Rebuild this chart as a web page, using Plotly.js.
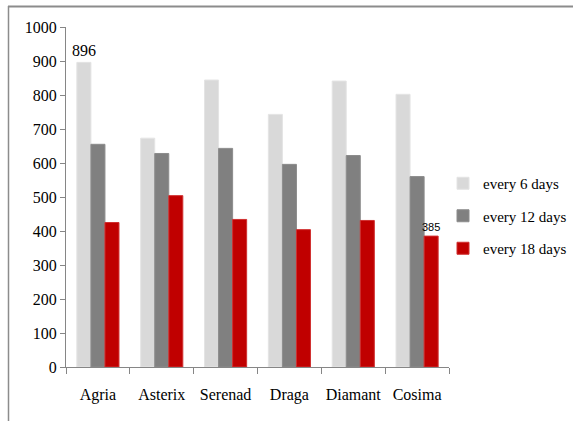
<!DOCTYPE html>
<html>
<head>
<meta charset="utf-8">
<script src="https://cdn.plot.ly/plotly-3.0.1.min.js"></script>
<style>html,body{margin:0;padding:0;background:#fff;}#chart{width:573px;height:421px;}</style>
</head>
<body>
<div id="chart"></div>
<script>
const categories = ["Agria", "Asterix", "Serenad", "Draga", "Diamant", "Cosima"];
const every6 = [896, 673, 844, 743, 841, 802];
const every12 = [655, 628, 643, 596, 622, 560];
const every18 = [425, 504, 434, 404, 431, 385];
const seriesNames = ["every 6 days", "every 12 days", "every 18 days"];
const label6 = ["896", "", "", "", "", ""];
const label18 = ["", "", "", "", "", "385"];

const W = 573, H = 421;
const mL = 66, mR = 124, mT = 27, mB = 54;
const pw = W - mL - mR, ph = H - mT - mB;
const px = x => (x - mL) / pw;
const py = y => (H - mB - y) / ph;
const SERIF = "Liberation Serif";

const traces = [
  {type: "bar", x: categories, y: every6, name: seriesNames[0], legendgroup: "a",
   marker: {color: "#d9d9d9", line: {color: "#e4e4e4", width: 1}},
   text: label6, textposition: "outside", cliponaxis: false, constraintext: "none",
   textfont: {family: SERIF, size: 16, color: "#000"}},
  {type: "bar", x: categories, y: every12, name: seriesNames[1], legendgroup: "b",
   marker: {color: "#808080", line: {color: "#8c8c8c", width: 1}}},
  {type: "bar", x: categories, y: every18, name: seriesNames[2], legendgroup: "c",
   marker: {color: "#c00000", line: {color: "#d03030", width: 1}},
   text: label18, textposition: "outside", cliponaxis: false, constraintext: "none",
   textfont: {family: "Liberation Sans", size: 11, color: "#000"}}
];

const layout = {
  width: W, height: H,
  margin: {l: mL, r: mR, t: mT, b: mB, pad: 0, autoexpand: false},
  paper_bgcolor: "#fff", plot_bgcolor: "#fff",
  barmode: "group", bargap: 0.34, bargroupgap: 0,
  font: {family: SERIF, size: 15, color: "#000"},
  showlegend: true,
  legend: {xref: "container", yref: "container", x: 443 / W, y: 1 - 167 / H,
           xanchor: "left", yanchor: "top",
           traceorder: "grouped", tracegroupgap: 10,
           font: {family: SERIF, size: 15, color: "#000"},
           itemwidth: 30, bgcolor: "rgba(0,0,0,0)"},
  xaxis: {showline: true, linecolor: "#868686", linewidth: 1,
          ticks: "outside", tickson: "boundaries", ticklen: 6, tickcolor: "#868686",
          ticklabelstandoff: 13,
          showgrid: false, zeroline: false, tickangle: 0, automargin: false,
          tickfont: {family: SERIF, size: 16, color: "#000"}},
  yaxis: {range: [0, 1000], dtick: 100, showline: true, linecolor: "#868686", linewidth: 1,
          ticks: "outside", ticklen: 5, tickcolor: "#868686",
          showgrid: false, zeroline: false, automargin: false,
          tickfont: {family: SERIF, size: 16, color: "#000"}},
  shapes: [
    {type: "line", xref: "paper", yref: "paper", x0: px(8), x1: px(573), y0: py(6.5), y1: py(6.5),
     line: {color: "#8c8c8c", width: 2}},
    {type: "line", xref: "paper", yref: "paper", x0: px(8.5), x1: px(8.5), y0: py(6), y1: py(421),
     line: {color: "#8c8c8c", width: 1.5}}
  ]
};

Plotly.newPlot("chart", traces, layout, {displayModeBar: false, staticPlot: true});
</script>
</body>
</html>
